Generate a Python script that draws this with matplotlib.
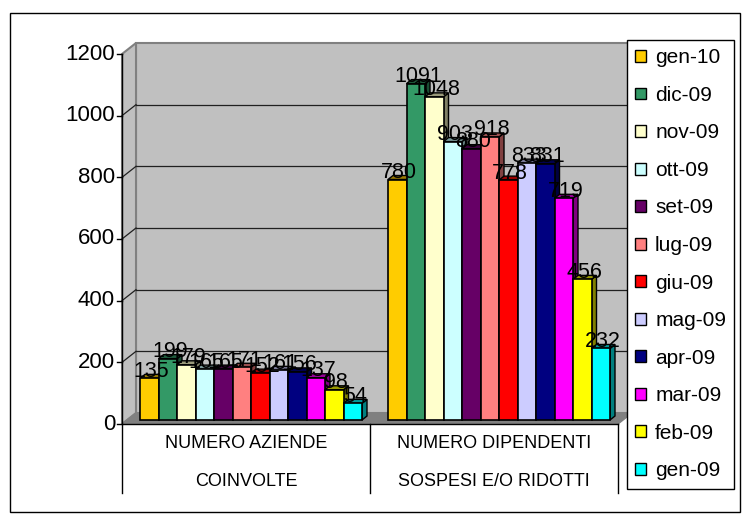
import matplotlib
matplotlib.use('Agg')
from matplotlib import pyplot as plt
from matplotlib.patches import Polygon, Rectangle, Patch

plt.rcParams['font.family'] = ['Liberation Sans', 'DejaVu Sans']

categories = [('NUMERO AZIENDE', 'COINVOLTE'), ('NUMERO DIPENDENTI', 'SOSPESI E/O RIDOTTI')]
months = ['gen-10', 'dic-09', 'nov-09', 'ott-09', 'set-09', 'lug-09',
          'giu-09', 'mag-09', 'apr-09', 'mar-09', 'feb-09', 'gen-09']
aziende = [135, 199, 179, 165, 165, 171, 152, 161, 156, 137, 98, 54]
dipendenti = [780, 1091, 1048, 903, 880, 918, 778, 833, 831, 719, 456, 232]
colors = ['#FFCC00', '#339966', '#FFFFCC', '#CCFFFF', '#660066', '#FF8080',
          '#FF0000', '#CCCCFF', '#000080', '#FF00FF', '#FFFF00', '#00FFFF']
yticks = [0, 200, 400, 600, 800, 1000, 1200]

W, H = 744, 517
fig = plt.figure(figsize=(W / 100, H / 100), dpi=100)
ax = fig.add_axes([122 / W, 1 - 424 / H, 496 / W, 370 / H])
ax.set_xlim(-0.5, 1.5)
ax.set_ylim(0, 1200)
ax.axis('off')

# pixel -> data units
kx = 2 / 496
ky = 1200 / 370
DX, DY = 14 * kx, 11 * ky      # wall depth
bdx, bdy = 5 * kx, 4 * ky      # bar depth

# walls and floor
ax.add_patch(Polygon([(-0.5 + DX, DY), (1.5 + DX, DY), (1.5 + DX, 1200 + DY), (-0.5 + DX, 1200 + DY)],
                     closed=True, fc='#C0C0C0', ec='#808080', lw=1.5, clip_on=False, zorder=0))
ax.add_patch(Polygon([(-0.5, 0), (-0.5, 1200), (-0.5 + DX, 1200 + DY), (-0.5 + DX, DY)],
                     closed=True, fc='#C0C0C0', ec='#808080', lw=1.5, clip_on=False, zorder=0))
ax.add_patch(Polygon([(-0.5, 0), (1.5, 0), (1.5 + DX, DY), (-0.5 + DX, DY)],
                     closed=True, fc='#808080', ec='#808080', lw=1, clip_on=False, zorder=0.5))
for t in yticks[1:-1]:
    ax.plot([-0.5 + DX, 1.5 + DX], [t + DY, t + DY], color='#202020', lw=0.9, clip_on=False, zorder=0.2)
    ax.plot([-0.5, -0.5 + DX], [t, t + DY], color='#202020', lw=0.9, clip_on=False, zorder=0.2)

# front axis, ticks and category area lines
below = -69 * ky
ax.plot([-0.5, -0.5], [below, 1200], color='black', lw=1, clip_on=False, zorder=2)
ax.plot([-0.5, 1.5], [0, 0], color='black', lw=1, clip_on=False, zorder=2)
for xs in [0.5, 1.5]:
    ax.plot([xs, xs], [below, 0], color='black', lw=1, clip_on=False, zorder=2)
for t in yticks:
    ax.plot([-0.5 - 5 * kx, -0.5], [t, t], color='black', lw=1, clip_on=False)
    ax.text(-0.5 - 7 * kx, t, str(t), ha='right', va='center', fontsize=16)

for c, (l1, l2) in enumerate(categories):
    ax.text(c, -19 * ky, l1, ha='center', va='center', fontsize=13)
    ax.text(c, -57 * ky, l2, ha='center', va='center', fontsize=13)


def darker(col, f):
    r, g, b = matplotlib.colors.to_rgb(col)
    return (r * f, g * f, b * f)


bw = 18.5 * kx
for c, vals in enumerate([aziende, dipendenti]):
    for i, v in enumerate(vals):
        x0 = c + (i - 6) * bw + bdx
        x1 = x0 + bw
        y0, y1 = bdy, bdy + v
        z = 3 + i * 0.05
        ax.add_patch(Polygon([(x1, y0), (x1, y1), (x1 + bdx, y1 + bdy), (x1 + bdx, y0 + bdy)],
                             closed=True, fc=darker(colors[i], 0.5), ec='black', lw=1, zorder=z))
        ax.add_patch(Polygon([(x0, y1), (x1, y1), (x1 + bdx, y1 + bdy), (x0 + bdx, y1 + bdy)],
                             closed=True, fc=darker(colors[i], 0.6), ec='black', lw=1, zorder=z))
        ax.bar(x0, v, width=bw, bottom=y0, align='edge', color=colors[i],
               edgecolor='black', lw=1.2, zorder=z + 0.01)
    for i, v in enumerate(vals):
        xc = c + (i - 5.5) * bw + bdx + 2 * kx
        ax.text(xc, bdy + v + 7 * ky, str(v), ha='center', va='center', fontsize=15.5, zorder=10)

handles = [Patch(facecolor=col, edgecolor='black', lw=1) for col in colors]
leg = fig.legend(handles, months, loc='upper left', bbox_to_anchor=(627 / W, 1 - 40 / H),
                 bbox_transform=fig.transFigure, frameon=True, fancybox=False,
                 edgecolor='black', framealpha=1, fontsize=15, labelspacing=0.89,
                 handlelength=0.5, handleheight=0.5, handletextpad=0.45,
                 borderpad=0.4, borderaxespad=0)
leg.get_frame().set_linewidth(1)
leg.set_zorder(20)

fig.add_artist(Rectangle((10 / W, 1 - 512 / H), 730 / W, 499 / H, transform=fig.transFigure,
                         fill=False, ec='black', lw=1))

fig.savefig('out.png', dpi=100)
